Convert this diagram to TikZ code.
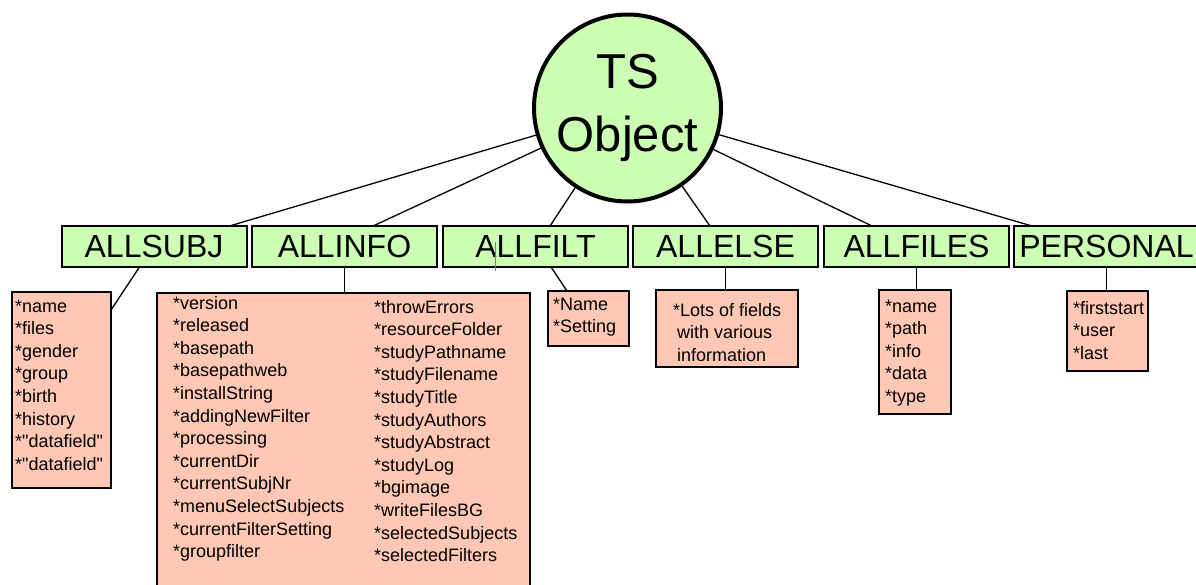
\documentclass[tikz,border=0pt]{standalone}
\usepackage{fontspec}
\setmainfont{Liberation Sans}[Ligatures=TeXOff]
\usetikzlibrary{calc}
\definecolor{boxgreen}{RGB}{204,255,180}
\definecolor{boxsalmon}{RGB}{255,200,180}
\newcommand{\fieldrows}[1]{\begin{tabular}[t]{@{}l@{}}#1\end{tabular}}
\begin{document}
\begin{tikzpicture}[x=1pt,y=-1pt,
  groupbox/.style={draw=black, line width=2pt, fill=boxgreen, rectangle,
    inner sep=0pt, outer sep=0pt, minimum width=185pt, minimum height=41pt,
    font=\fontsize{32}{38}\selectfont},
  fieldbox/.style={draw=black, line width=2pt, fill=boxsalmon, rectangle,
    inner sep=0pt, outer sep=0pt, anchor=north west},
  fieldtext/.style={anchor=base west, inner sep=0pt,
    font=\fontsize{18}{22.6}\selectfont},
  link/.style={draw=black, line width=1.3pt}]
\useasboundingbox (0,0) rectangle (1196,584);

% root object
\node[circle, draw=black, line width=4pt, fill=boxgreen, minimum size=187pt,
  inner sep=0pt, align=center, font=\fontsize{49}{63}\selectfont]
  (ts) at (627.5,108) {TS\\Object};

% member groups
\node[groupbox] (allsubj)  at (154,246.5)  {ALLSUBJ};
\node[groupbox] (allinfo)  at (344.5,246.5) {ALLINFO};
\node[groupbox] (allfilt)  at (535.5,246.5) {ALLFILT};
\node[groupbox] (allelse)  at (725.5,246.5) {ALLELSE};
\node[groupbox] (allfiles) at (916.5,246.5) {ALLFILES};
\node[groupbox] (personal) at (1106.5,246.5) {PERSONAL};

% field boxes
\node[fieldbox, minimum width=99pt,  minimum height=196pt] (subjlist)  at (12,292) {};
\node[fieldbox, minimum width=373pt, minimum height=300pt] (infolist)  at (157,293) {};
\node[fieldbox, minimum width=81pt,  minimum height=55pt]  (filtlist)  at (548,291) {};
\node[fieldbox, minimum width=142pt, minimum height=77pt]  (elselist)  at (656,290) {};
\node[fieldbox, minimum width=72pt,  minimum height=124pt] (fileslist) at (879,290) {};
\node[fieldbox, minimum width=81pt,  minimum height=80pt]  (perslist)  at (1067,291) {};

% field names
\node[fieldtext] (subjtext) at (15,312) {\fieldrows{*name\\{}*files\\{}*gender\\{}*group\\{}*birth\\{}*history\\{}*"datafield"\\{}*"datafield"}};
\node[fieldtext] (infoleft) at (173,309) {\fieldrows{*version\\{}*released\\{}*basepath\\{}*basepathweb\\{}*installString\\{}*addingNewFilter\\{}*processing\\{}*currentDir\\{}*currentSubjNr\\{}*menuSelectSubjects\\{}*currentFilterSetting\\{}*groupfilter}};
\node[fieldtext] (inforight) at (374,313) {\fieldrows{*throwErrors\\{}*resourceFolder\\{}*studyPathname\\{}*studyFilename\\{}*studyTitle\\{}*studyAuthors\\{}*studyAbstract\\{}*studyLog\\{}*bgimage\\{}*writeFilesBG\\{}*selectedSubjects\\{}*selectedFilters}};
\node[fieldtext] (filttext) at (553,310) {\fieldrows{*Name\\{}*Setting}};
\node[fieldtext] (elsetext) at (673,316) {\fieldrows{*Lots of fields\\\hspace*{4pt}with various\\\hspace*{4pt}information}};
\node[fieldtext] (filestext) at (885,312) {\fieldrows{*name\\{}*path\\{}*info\\{}*data\\{}*type}};
\node[fieldtext] (perstext) at (1073,314) {\fieldrows{*firststart\\{}*user\\{}*last}};

% text cursor left in the ALLFILT label
\draw[gray, line width=0.8pt] ($(allfilt.north west)+(52,16)$) -- ++(0,29);

% links from the root to the groups
\draw[link] ($(allsubj.north west)+(168,0)$)  -- (ts);
\draw[link] ($(allinfo.north west)+(121,0)$)  -- (ts);
\draw[link] ($(allfilt.north west)+(107,0)$)  -- (ts);
\draw[link] ($(allelse.north west)+(77,0)$)   -- (ts);
\draw[link] ($(allfiles.north west)+(48,0)$)  -- (ts);
\draw[link] ($(personal.north west)+(18,0)$)  -- (ts);

% links from the groups to their fields
\draw[link] ($(allsubj.south west)+(78,0)$) -- ($(subjlist.north east)+(0,18)$);
\draw[link] (allinfo.south) -- (allinfo.south |- infolist.north);
\draw[link] ($(allfilt.south west)+(108,0)$) -- ($(filtlist.north west)+(19,0)$);
\draw[link] (allelse.south) -- (allelse.south |- elselist.north);
\draw[link] (allfiles.south) -- (allfiles.south |- fileslist.north);
\draw[link] (personal.south) -- (personal.south |- perslist.north);
\end{tikzpicture}
\end{document}
